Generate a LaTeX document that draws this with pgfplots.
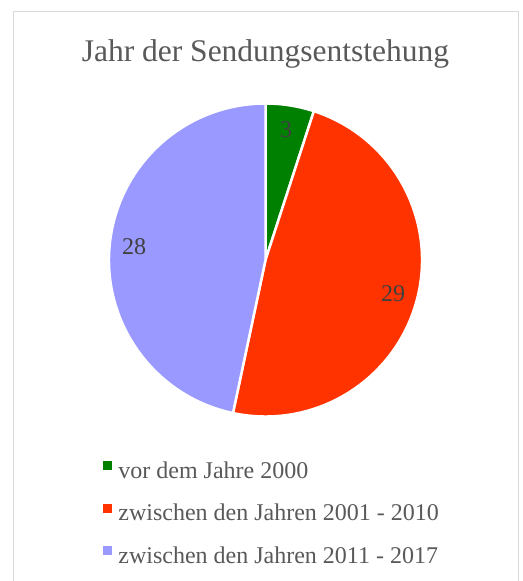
\documentclass[border=0pt]{standalone}
\usepackage{fontspec}
\setmainfont{Liberation Serif}
\usepackage{pgfplots}
\usepackage{pgfplotstable}
\pgfplotsset{compat=1.18}
\definecolor{cgreen}{RGB}{0,128,0}
\definecolor{cred}{RGB}{255,51,0}
\definecolor{clav}{RGB}{153,153,255}
\definecolor{textgray}{RGB}{89,89,89}
\definecolor{labelgray}{RGB}{64,64,64}
\definecolor{framegray}{RGB}{217,217,217}

\pgfplotstableread{
idx value
0 3
1 29
2 28
}\piedata

\begin{document}
\begin{tikzpicture}
\useasboundingbox (0,0) rectangle (523bp,581bp);
\fill[white] (0,0) rectangle (523bp,581bp);
\draw[framegray, line width=1bp] (13bp,-5bp) rectangle (518bp,569bp);
\node[anchor=base, font=\fontsize{31.5bp}{36bp}\selectfont, text=textgray] at (265.5bp,519bp) {Jahr der Sendungsentstehung};

\pgfplotstablegetelem{0}{value}\of\piedata \edef\vA{\pgfplotsretval}
\pgfplotstablegetelem{1}{value}\of\piedata \edef\vB{\pgfplotsretval}
\pgfplotstablegetelem{2}{value}\of\piedata \edef\vC{\pgfplotsretval}
\pgfmathsetmacro\tot{\vA+\vB+\vC}
\pgfmathsetmacro\aA{90}
\pgfmathsetmacro\aB{\aA-360*\vA/\tot}
\pgfmathsetmacro\aC{\aB-360*\vB/\tot}
\pgfmathsetmacro\aD{\aC-360*\vC/\tot}
\pgfmathsetmacro\mA{(\aA+\aB)/2}
\pgfmathsetmacro\mB{(\aB+\aC)/2}
\pgfmathsetmacro\mC{(\aC+\aD)/2}
\def\R{156.5bp}

\begin{axis}[
  scale only axis, width=313bp, height=313bp,
  xmin=-1, xmax=1, ymin=-1, ymax=1,
  hide axis,
  at={(265.5bp,321bp)}, anchor=center,
  clip=false,
  legend cell align=left,
  legend style={
    at={(axis description cs:-0.0192,-0.1422)}, anchor=north west,
    draw=none, fill=none, inner sep=0pt, outer sep=0pt,
    font=\fontsize{24bp}{28bp}\selectfont, text=textgray,
    row sep=20.5bp, column sep=7bp,
    nodes={inner sep=0pt, text height=17bp, text depth=5bp},
  },
]
\fill[cgreen, draw=white, line width=2.5bp] (axis cs:0,0) -- ([shift={(\aA:\R)}]axis cs:0,0) arc[start angle=\aA, end angle=\aB, radius=\R] -- cycle;
\fill[cred, draw=white, line width=2.5bp] (axis cs:0,0) -- ([shift={(\aB:\R)}]axis cs:0,0) arc[start angle=\aB, end angle=\aC, radius=\R] -- cycle;
\fill[clav, draw=white, line width=2.5bp] (axis cs:0,0) -- ([shift={(\aC:\R)}]axis cs:0,0) arc[start angle=\aC, end angle=\aD, radius=\R] -- cycle;
\node[font=\fontsize{24bp}{28bp}\selectfont, text=labelgray] at ([shift={(\mA:132bp)}]axis cs:0,0) {\vA};
\node[font=\fontsize{24bp}{28bp}\selectfont, text=labelgray] at ([shift={(\mB:132bp)}]axis cs:0,0) {\vB};
\node[font=\fontsize{24bp}{28bp}\selectfont, text=labelgray] at ([shift={(\mC:132bp)}]axis cs:0,0) {\vC};
\addlegendimage{legend image code/.code={\fill[cgreen] (0bp,3bp) rectangle (8bp,11bp);}}
\addlegendentry{vor dem Jahre 2000}
\addlegendimage{legend image code/.code={\fill[cred] (0bp,3bp) rectangle (8bp,11bp);}}
\addlegendentry{zwischen den Jahren 2001 - 2010}
\addlegendimage{legend image code/.code={\fill[clav] (0bp,3bp) rectangle (8bp,11bp);}}
\addlegendentry{zwischen den Jahren 2011 - 2017}
\end{axis}
\end{tikzpicture}
\end{document}
